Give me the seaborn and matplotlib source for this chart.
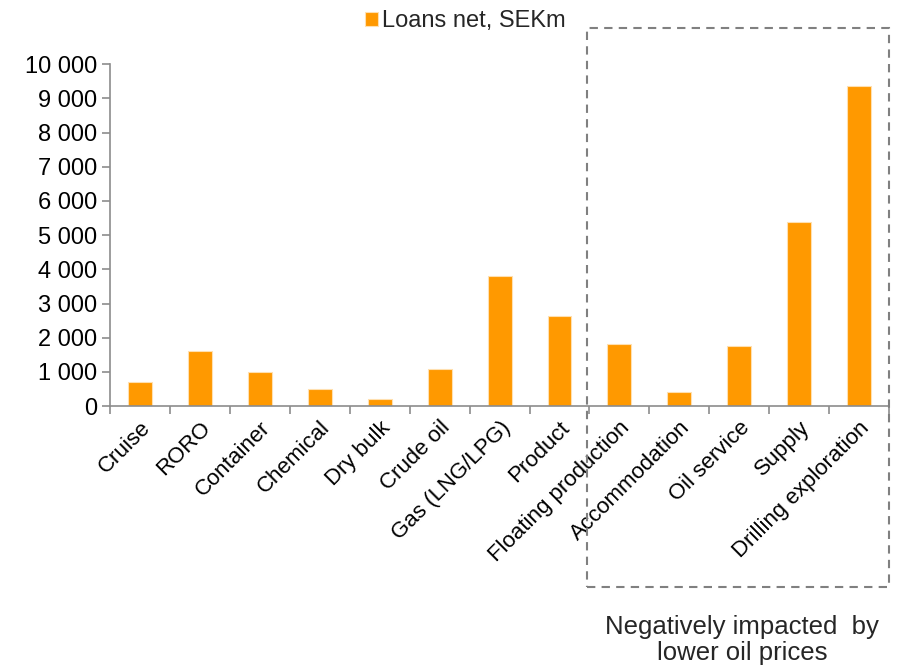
import matplotlib
matplotlib.use("Agg")
import matplotlib.pyplot as plt
import seaborn as sns
from matplotlib.patches import Rectangle
from matplotlib.ticker import FuncFormatter, FixedLocator

# Data
segments = [
    "Cruise", "RORO", "Container", "Chemical", "Dry bulk", "Crude oil",
    "Gas (LNG/LPG)", "Product", "Floating production", "Accommodation",
    "Oil service", "Supply", "Drilling exploration",
]
loans_net = [700, 1600, 1000, 500, 210, 1080, 3800, 2630, 1820, 400, 1750, 5380, 9370]
series_name = "Loans net, SEKm"
y_ticks = list(range(0, 10001, 1000))

sns.set_theme(style="white")
plt.rcParams["font.family"] = ["Liberation Sans", "DejaVu Sans"]

fig = plt.figure(figsize=(8.99, 6.68), dpi=100)
ax = fig.add_axes([0.1224, 0.392, 0.8666, 0.512])

sns.barplot(x=segments, y=loans_net, color="#FF9900", saturation=1, width=0.4,
            edgecolor="#FFE0B0", linewidth=0.8, label=series_name, ax=ax)

ax.set_ylim(0, 10000)
ax.set_xlim(-0.5, len(segments) - 0.5)
ax.set_yticks(y_ticks)
ax.yaxis.set_major_formatter(FuncFormatter(lambda v, p: f"{int(v):,}".replace(",", " ")))

# tick marks between categories, labels at bar centres
ax.xaxis.set_minor_locator(FixedLocator([i - 0.5 for i in range(len(segments) + 1)]))
ax.tick_params(axis="x", which="major", length=0, labelsize=16, pad=8)
ax.tick_params(axis="x", which="minor", length=6, width=1.2, color="#8c8c8c", bottom=True)
ax.tick_params(axis="y", length=6, width=1.2, color="#8c8c8c", labelsize=17, left=True,
               labelcolor="black")
for lab in ax.get_xticklabels():
    lab.set_rotation(45)
    lab.set_ha("right")
    lab.set_rotation_mode("anchor")
    lab.set_color("black")

for side in ["top", "right"]:
    ax.spines[side].set_visible(False)
for side in ["left", "bottom"]:
    ax.spines[side].set_color("#8c8c8c")
    ax.spines[side].set_linewidth(1.2)

ax.legend(loc="upper center", bbox_to_anchor=((465 - 110) / (889 - 110), 1.185),
          frameon=False, fontsize=17, handlelength=0.55, handleheight=0.55,
          handletextpad=0.15, borderaxespad=0)

# dashed box around the oil-related segments
box = Rectangle((587 / 899, 1 - 587 / 668), (889 - 587) / 899, (587 - 28) / 668,
                transform=fig.transFigure, fill=False, edgecolor="#808080",
                linestyle=(0, (4, 3)), linewidth=1.5, clip_on=False)
fig.patches.append(box)

fig.text(742 / 899, 1 - 640 / 668, "Negatively impacted  by\nlower oil prices",
         ha="center", va="center", fontsize=18.5, linespacing=1.1)

fig.savefig("out.png", dpi=100)
